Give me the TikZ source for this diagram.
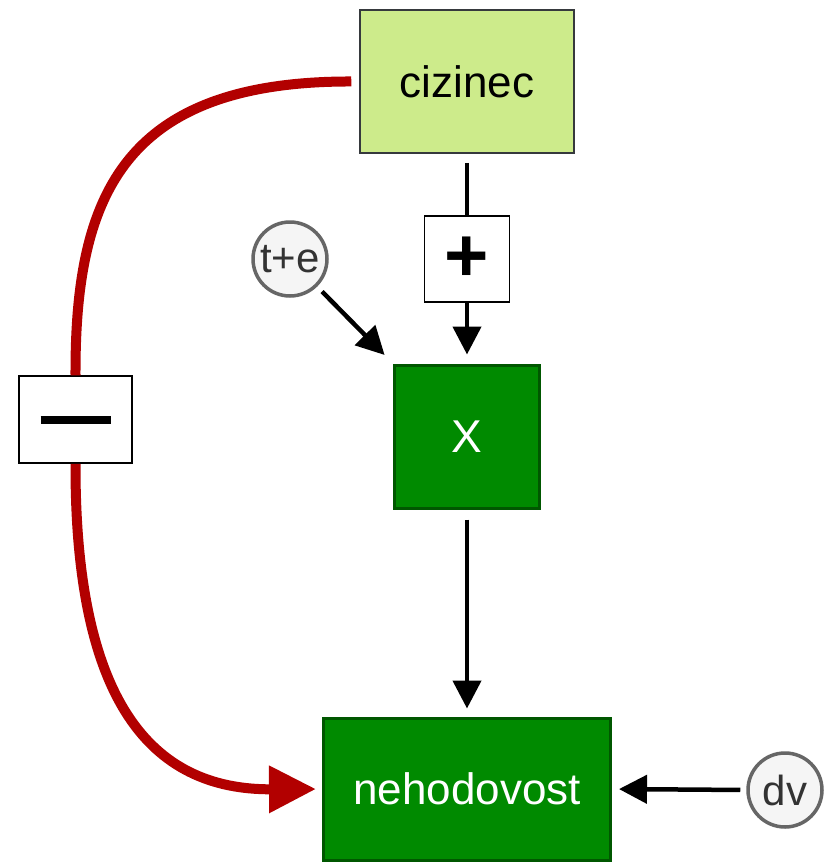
\documentclass[tikz,border=0pt]{standalone}
\usepackage{fontspec}
\setmainfont{Liberation Sans}
\usetikzlibrary{arrows.meta}
\definecolor{lightgreen}{HTML}{CDEB8B}
\definecolor{lightgreenedge}{HTML}{36393D}
\definecolor{darkgreen}{HTML}{008A00}
\definecolor{darkgreenedge}{HTML}{005700}
\definecolor{redline}{HTML}{B20000}
\definecolor{circfill}{HTML}{F5F5F5}
\definecolor{circedge}{HTML}{666666}
\definecolor{circtext}{HTML}{333333}
\tikzset{
  srcbox/.style={draw=lightgreenedge, fill=lightgreen, line width=1.5pt, minimum width=214pt, minimum height=143pt, inner sep=0pt, font=\fontsize{44}{52}\selectfont},
  varbox/.style={draw=darkgreenedge, fill=darkgreen, line width=3pt, inner sep=0pt, text=white},
  signbox/.style={draw=black, fill=white, line width=1.5pt, inner sep=0pt},
  errnode/.style={circle, draw=circedge, fill=circfill, line width=3.5pt, minimum size=74pt, inner sep=0pt, text=circtext, font=\fontsize{42}{50}\selectfont},
  flow/.style={line width=4.5pt, -{Triangle[length=28pt,width=28pt]}},
  neg/.style={line width=10pt, draw=redline},
}
\begin{document}
\begin{tikzpicture}[x=1pt,y=-1pt]
\useasboundingbox (0,0) rectangle (823,862);
% nodes
\node[srcbox] (cz) at (467,81.5) {cizinec};
\node[varbox, minimum width=145pt, minimum height=143pt, font=\fontsize{46}{54}\selectfont] (x) at (467,436.5) {X};
\node[varbox, minimum width=287pt, minimum height=142pt, font=\fontsize{44}{52}\selectfont] (neh) at (467,789) {nehodovost};
\node[errnode] (te) at (290,259) {t+e};
\node[errnode] (dv) at (785,790) {dv};
\node[signbox, minimum width=113pt, minimum height=87pt] (minus) at (75.5,419.5) {};
\draw[line width=8pt] ([xshift=-35pt]minus.center) -- ([xshift=35pt]minus.center);
% positive influence
\draw[flow, shorten <=9pt, shorten >=9pt] (cz.south) -- (x.north);
\node[signbox, minimum width=85pt, minimum height=86pt, font=\fontsize{76}{76}\selectfont\bfseries] (plus) at (467,259) {+};
\draw[flow, shorten <=10pt, shorten >=8pt] (x.south) -- (neh.north);
\draw[flow, shorten <=7pt, shorten >=12pt] (te) -- (x.north west);
\draw[flow, shorten <=6pt, shorten >=7pt] (dv.west) -- (neh.east);
% negative influence
\draw[neg, shorten <=8pt] (cz.west) .. controls (120,81) and (75,200) .. (minus.north);
\draw[neg, shorten >=6pt, -{Triangle[length=47pt,width=45pt]}, color=redline]
  (minus.south) .. controls (75,700) and (150,790) .. (neh.west);
\end{tikzpicture}
\end{document}
